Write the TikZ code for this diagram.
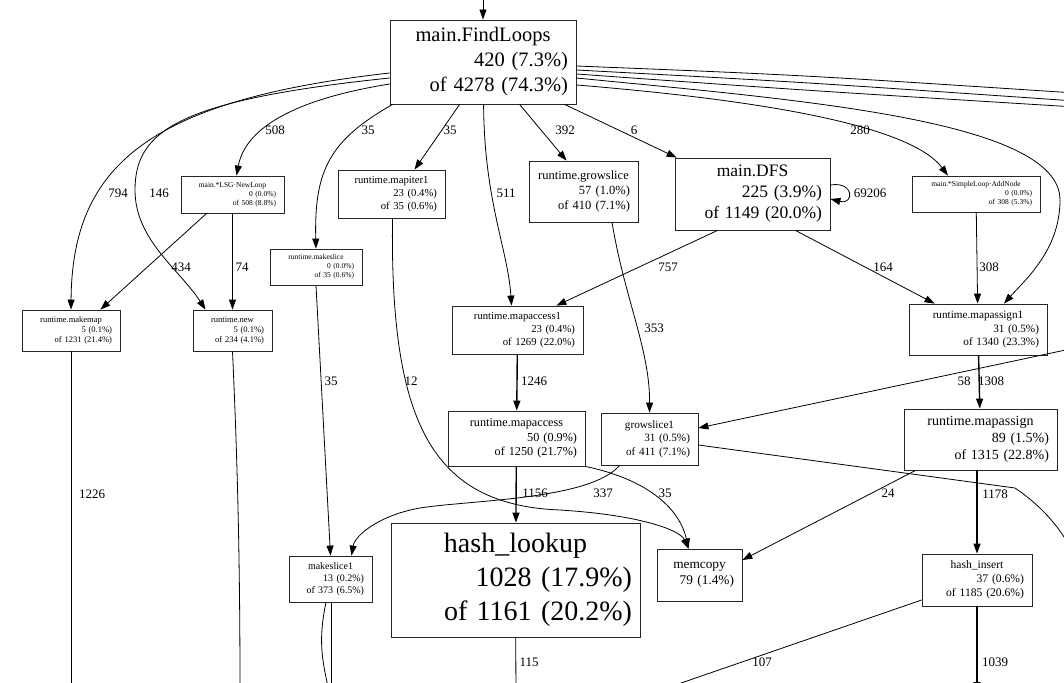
\documentclass[tikz,border=0pt]{standalone}
\usepackage{fontspec}
\setmainfont{Liberation Serif}
\usetikzlibrary{arrows.meta}

% first line centred, figures right-aligned (graphviz style)
\newcommand{\plabel}[2]{{\centering #1\par}{\raggedleft #2\par}}

\begin{document}
\begin{tikzpicture}[
  x=1pt, y=-1pt,  % image pixel grid, y pointing down
  pbox/.style={draw=black!85, line width=0.8pt, inner xsep=8pt, inner ysep=0pt},
  call/.style={draw=black, line width=0.8pt, -{Triangle[length=10pt,width=7pt]}},
  hotcall/.style={call, line width=1.4pt},
  lbl/.style={font=\fontsize{13}{15}\selectfont, inner sep=0pt}
]
\useasboundingbox (0,0) rectangle (1064,682);
\clip (0,0) rectangle (1064,682);

% ---------- functions ----------
\node[pbox, text width=170pt, minimum height=84pt, font=\fontsize{20.5}{25}\selectfont] (findloops) at (483,62)
  {\plabel{main.FindLoops}{420 (7.3\%)\\of 4278 (74.3\%)}};
\node[pbox, text width=87pt, minimum height=37pt, font=\fontsize{7.5}{9}\selectfont] (lsgnewloop) at (232.5,194.5)
  {\plabel{main.*LSG·NewLoop}{0 (0.0\%)\\of 508 (8.8\%)}};
\node[pbox, text width=91pt, minimum height=48pt, font=\fontsize{10.7}{13}\selectfont] (mapiter1) at (391.5,194)
  {\plabel{runtime.mapiter1}{23 (0.4\%)\\of 35 (0.6\%)}};
\node[pbox, text width=93pt, minimum height=61pt, font=\fontsize{12.5}{15}\selectfont] (growslice) at (583.5,191.5)
  {\plabel{runtime.growslice}{57 (1.0\%)\\of 410 (7.1\%)}};
\node[pbox, text width=139pt, minimum height=72pt, font=\fontsize{17.5}{21}\selectfont] (dfs) at (752.5,194)
  {\plabel{main.DFS}{225 (3.9\%)\\of 1149 (20.0\%)}};
\node[pbox, text width=112pt, minimum height=36pt, font=\fontsize{7.5}{9}\selectfont] (addnode) at (976,194)
  {\plabel{main.*SimpleLoop·AddNode}{0 (0.0\%)\\of 308 (5.3\%)}};
\node[pbox, text width=76pt, minimum height=36pt, font=\fontsize{7.5}{9}\selectfont] (makeslice) at (316,267)
  {\plabel{runtime.makeslice}{0 (0.0\%)\\of 35 (0.6\%)}};
\node[pbox, text width=82pt, minimum height=41pt, font=\fontsize{8.5}{10}\selectfont] (makemap) at (71,330.5)
  {\plabel{runtime.makemap}{5 (0.1\%)\\of 1231 (21.4\%)}};
\node[pbox, text width=63pt, minimum height=41pt, font=\fontsize{8.5}{10}\selectfont] (newnode) at (232.5,330.5)
  {\plabel{runtime.new}{5 (0.1\%)\\of 234 (4.1\%)}};
\node[pbox, text width=115pt, minimum height=48pt, font=\fontsize{10.7}{13}\selectfont] (mapaccess1) at (517.5,330)
  {\plabel{runtime.mapaccess1}{23 (0.4\%)\\of 1269 (22.0\%)}};
\node[pbox, text width=122pt, minimum height=51pt, font=\fontsize{11.2}{13.5}\selectfont] (mapassign1) at (978,329.5)
  {\plabel{runtime.mapassign1}{31 (0.5\%)\\of 1340 (23.3\%)}};
\node[pbox, text width=121pt, minimum height=55pt, font=\fontsize{12.2}{14.5}\selectfont] (mapaccess) at (516.5,438.5)
  {\plabel{runtime.mapaccess}{50 (0.9\%)\\of 1250 (21.7\%)}};
\node[pbox, text width=81pt, minimum height=52pt, font=\fontsize{11.2}{13.5}\selectfont] (growslice1) at (649.5,439)
  {\plabel{growslice1}{31 (0.5\%)\\of 411 (7.1\%)}};
\node[pbox, text width=137pt, minimum height=61pt, font=\fontsize{14}{17}\selectfont] (mapassign) at (980.5,439.5)
  {\plabel{runtime.mapassign}{89 (1.5\%)\\of 1315 (22.8\%)}};
\node[pbox, text width=233pt, minimum height=114pt, font=\fontsize{28}{34}\selectfont] (hashlookup) at (515.5,580)
  {\plabel{hash\_lookup}{1028 (17.9\%)\\of 1161 (20.2\%)}};
\node[pbox, text width=69pt, minimum height=52pt, font=\fontsize{13.3}{16}\selectfont] (memcopy) at (699.5,575)
  {\plabel{memcopy}{79 (1.4\%)}};
\node[pbox, text width=67pt, minimum height=46pt, font=\fontsize{10}{12}\selectfont] (makeslice1) at (330.5,579)
  {\plabel{makeslice1}{13 (0.2\%)\\of 373 (6.5\%)}};
\node[pbox, text width=94pt, minimum height=52pt, font=\fontsize{11.6}{14}\selectfont] (hashinsert) at (977,580)
  {\plabel{hash\_insert}{37 (0.6\%)\\of 1185 (20.6\%)}};

% ---------- ends that leave the crop ----------
\coordinate (entry) at (483,-12);
\coordinate (outA) at (1075,93);
\coordinate (outB) at (1075,101);
\coordinate (outC) at (1075,107);
\coordinate (out58) at (1075,348);
\coordinate (outG1) at (1075,556);
\coordinate (outMap) at (71,700);
\coordinate (outNew) at (240,700);
\coordinate (outMs1) at (331,700);
\coordinate (outLook) at (516,700);
\coordinate (outIns107) at (655,692);
\coordinate (outIns) at (977,692);

% ---------- calls ----------
\draw[call] (entry) -- (findloops.north);
\draw[call] ([yshift=-11pt]findloops.west) .. controls (150,100) and (72,165) .. (makemap.north);
\draw[call] ([yshift=-16pt]findloops.west) .. controls (180,100) and (135,130) .. (135,190)
  .. controls (135,240) and (180,270) .. ([xshift=-27pt]newnode.north);
\draw[call] ([yshift=-22pt]findloops.west) .. controls (290,100) and (245,130) .. ([xshift=4pt]lsgnewloop.north);
\draw[call] ([xshift=3pt]findloops.south west) .. controls (330,140) and (314,170) .. (makeslice.north);
\draw[call] ([xshift=70pt]findloops.south west) -- ([xshift=23pt]mapiter1.north);
\draw[call] ([xshift=94pt]findloops.south west) .. controls (484,200) and (508,250) .. ([xshift=-6pt]mapaccess1.north);
\draw[call] ([xshift=130pt]findloops.south west) -- ([xshift=-17pt]growslice.north);
\draw[call] ([xshift=175pt]findloops.south west) -- ([xshift=2pt]dfs.north west);
\draw[call] ([yshift=-23pt]findloops.east) .. controls (760,100) and (910,125) .. ([xshift=-28pt]addnode.north);
\draw[call] ([yshift=-16pt]findloops.east) .. controls (800,100) and (1060,120) .. (1060,200)
  .. controls (1060,250) and (1025,280) .. ([xshift=26pt]mapassign1.north);
\draw[call] ([yshift=-4pt]findloops.east) .. controls (800,75) .. (outA);
\draw[call] ([yshift=-8pt]findloops.east) .. controls (800,82) .. (outB);
\draw[call] ([yshift=-12pt]findloops.east) .. controls (800,90) .. (outC);

\draw[call] ([xshift=26pt]lsgnewloop.south west) -- ([xshift=-20pt]makemap.north east);
\draw[call] (lsgnewloop) -- (newnode);
\draw[call] (makeslice.south) -- (makeslice1.north);
\draw[call] ([xshift=1pt]mapiter1.south) .. controls (390,420) and (430,505) .. (560,510)
  .. controls (640,515) and (680,530) .. ([xshift=-11pt]memcopy.north);
\draw[call] ([xshift=43pt]dfs.south west) -- ([xshift=-27pt]mapaccess1.north east);
\draw[call] ([xshift=-35pt]dfs.south east) -- ([xshift=26pt]mapassign1.north west);
\draw[call] ([yshift=9pt]dfs.east) .. controls +(24,-4) and +(24,6) .. ([yshift=-5pt]dfs.east);
\draw[call] ([xshift=28.5pt]growslice.south) .. controls (625,300) and (650,350) .. (growslice1.north);
\draw[call] (addnode) -- (mapassign1);
\draw[hotcall] (mapaccess1) -- (mapaccess);
\draw[hotcall] (mapassign1) -- (mapassign);
\draw[call] (out58) -- ([yshift=11pt]growslice1.east);
\draw[hotcall] (mapaccess) -- (hashlookup);
\draw[call] (mapaccess.south east) .. controls (650,480) and (680,510) .. ([xshift=-11pt]memcopy.north);
\draw[call] ([xshift=19pt]growslice1.south west) .. controls (590,500) and (470,500) .. (420,508)
  .. controls (380,515) and (355,535) .. ([xshift=21pt]makeslice1.north);
\draw[call] ([yshift=-6pt]growslice1.east) -- (1015,488) .. controls (1040,505) and (1058,525) .. (outG1);
\draw[hotcall] ([xshift=-3.5pt]mapassign.south) -- (hashinsert.north);
\draw[call] ([xshift=12pt]mapassign.south west) -- ([yshift=15pt]memcopy.east);
\draw[call] (makemap) -- (outMap);
\draw[call] (newnode.south) .. controls (237,450) and (240,550) .. (outNew);
\draw[call] ([xshift=0.5pt]makeslice1.south) -- (outMs1);
\draw[call] ([xshift=-4.5pt]makeslice1.south) .. controls (318,640) and (322,660) .. (outMs1);
\draw[call] (hashlookup) -- (outLook);
\draw[call] ([yshift=-20pt]hashinsert.west) -- (outIns107);
\draw[hotcall] (hashinsert) -- (outIns);

% ---------- edge weights ----------
\node[lbl] (w794) at (118,193) {794};
\node[lbl] (w146) at (159,193) {146};
\node[lbl] (w508) at (275,130) {508};
\node[lbl] (w35a) at (368,130) {35};
\node[lbl] (w35b) at (450,130) {35};
\node[lbl] (w511) at (506,193) {511};
\node[lbl] (w392) at (565,130) {392};
\node[lbl] (w6) at (634,130) {6};
\node[lbl] (w280) at (860,130) {280};
\node[lbl] (w69206) at (870,193) {69206};
\node[lbl] (w434) at (181,267) {434};
\node[lbl] (w74) at (242,267) {74};
\node[lbl] (w757) at (668,267) {757};
\node[lbl] (w164) at (883,267) {164};
\node[lbl] (w308) at (989,267) {308};
\node[lbl] (w353) at (654,328) {353};
\node[lbl] (w35c) at (331,381) {35};
\node[lbl] (w12) at (411,381) {12};
\node[lbl] (w1246) at (534,381) {1246};
\node[lbl] (w58) at (964,381) {58};
\node[lbl] (w1308) at (991,381) {1308};
\node[lbl] (w1226) at (92,494) {1226};
\node[lbl] (w1156) at (535,493) {1156};
\node[lbl] (w337) at (603,493) {337};
\node[lbl] (w35d) at (665,493) {35};
\node[lbl] (w24) at (888,493) {24};
\node[lbl] (w1178) at (995,494) {1178};
\node[lbl] (w115) at (529,662) {115};
\node[lbl] (w107) at (762,662) {107};
\node[lbl] (w1039) at (995,662) {1039};

\end{tikzpicture}
\end{document}
